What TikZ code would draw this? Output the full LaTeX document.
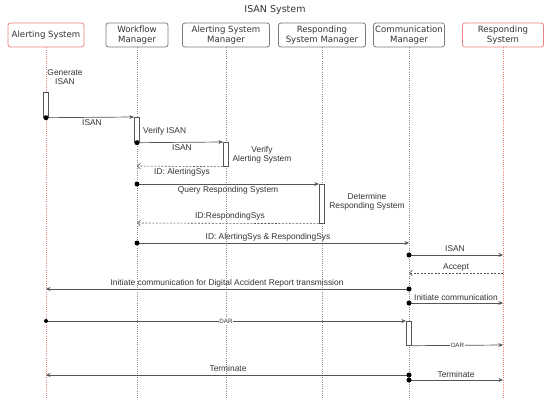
\documentclass[tikz,border=0pt]{standalone}
\usepackage{fontspec}
\setmainfont{Liberation Sans}
\newfontfamily\hdrfont{DejaVu Sans}
\usetikzlibrary{arrows.meta}
\definecolor{boxgray}{HTML}{7A7A7A}
\definecolor{redl}{HTML}{EE8080}
\definecolor{linegray}{HTML}{555555}
\definecolor{lifegray}{HTML}{8A8A8A}
\definecolor{txt}{HTML}{333333}
\begin{document}
\begin{tikzpicture}[x=1pt,y=-1pt,
  hdr/.style={draw=boxgray, rounded corners=2.5pt, fill=white, line width=0.8pt, align=center,
    font=\hdrfont\fontsize{8.6}{10}\selectfont, text=txt, minimum height=24pt, inner sep=1pt},
  hdrred/.style={hdr, draw=redl},
  life/.style={draw=lifegray, dash pattern=on 0.8pt off 1.4pt, line width=0.6pt},
  lifered/.style={draw=redl, dash pattern=on 0.8pt off 1.4pt, line width=0.6pt},
  act/.style={draw=linegray, fill=white, line width=0.7pt, minimum width=5.5pt, inner sep=0pt},
  msg/.style={draw=linegray, line width=0.7pt, -{Stealth[length=4.5pt,width=4pt]}},
  ret/.style={draw=linegray, dash pattern=on 2pt off 1.5pt, line width=0.6pt, -{Straight Barb[length=3pt,width=5.5pt]}},
  lbl/.style={font=\fontsize{8.4}{9.6}\selectfont, text=txt, inner sep=1pt, align=center},
  tiny/.style={font=\fontsize{6.2}{7}\selectfont, text=txt, fill=white, inner sep=0.6pt},
  startdot/.style={circle, fill=black, inner sep=0pt, minimum size=5pt}
]
\fill[white] (0,0) rectangle (550,410);
\useasboundingbox (0,0) rectangle (550,410);

% title
\node[font=\hdrfont\fontsize{9.5}{11}\selectfont, text=txt] (title) at (275,10) {ISAN System};

% headers
\node[hdrred, minimum width=76pt] (A) at (46,35) {Alerting System};
\node[hdr, minimum width=62pt] (W) at (137,35) {Workflow\\Manager};
\node[hdr, minimum width=87pt] (S) at (226,35) {Alerting System\\Manager};
\node[hdr, minimum width=87pt] (R) at (322,35) {Responding\\System Manager};
\node[hdr, minimum width=71pt] (C) at (409,35) {Communication\\Manager};
\node[hdrred, minimum width=81pt] (RS) at (503,35) {Responding\\System};

% lifeline ends
\coordinate (Aend) at (46,398);
\coordinate (Wend) at (137,398);
\coordinate (Send) at (226,398);
\coordinate (Rend) at (322,398);
\coordinate (Cend) at (409,398);
\coordinate (RSend) at (503,398);
\draw[lifered] (A.south) -- (Aend);
\draw[life] (W.south) -- (Wend);
\draw[life] (S.south) -- (Send);
\draw[life] (R.south) -- (Rend);
\draw[life] (C.south) -- (Cend);
\draw[lifered] (RS.south) -- (RSend);

% activation bars
\node[act, minimum height=25pt, anchor=north] (a1) at (46,92) {};
\node[act, minimum height=25pt, anchor=north] (w1) at (137,117) {};
\node[act, minimum height=24pt, anchor=north] (s1) at (226,142) {};
\node[act, minimum height=39pt, anchor=north] (r1) at (322,184) {};
\node[act, minimum height=24pt, anchor=north] (c1) at (409,321) {};

% side texts
\node[lbl] (gen) at (65,77) {Generate\\ISAN};
\node[lbl, anchor=west] (ver) at (142,131) {Verify ISAN};
\node[lbl] (vas) at (262,155) {Verify\\Alerting System};
\node[lbl] (det) at (367,202) {Determine\\Responding System};

% message end points
\coordinate (W3) at (137,166);
\coordinate (W4) at (137,184);
\coordinate (W5) at (137,223);
\coordinate (W6) at (137,243);
\coordinate (C6) at (409,243);
\coordinate (C7) at (409,255);
\coordinate (RS7) at (503,255);
\coordinate (RS8) at (503,273);
\coordinate (C8) at (409,273);
\coordinate (C9) at (409,289);
\coordinate (A9) at (46,289);
\coordinate (C10) at (409,303);
\coordinate (RS10) at (503,303);
\coordinate (A11) at (46,321);
\coordinate (RS12) at (503,345);
\coordinate (C13) at (409,375);
\coordinate (A13) at (46,375);
\coordinate (C14) at (409,380);
\coordinate (RS14) at (503,380);

% messages
\draw[msg] (a1.south) -- (w1.north west);
\node[lbl] (l1) at (92,123) {ISAN};
\draw[msg] (w1.south) -- (s1.north west);
\node[lbl] (l2) at (182,148) {ISAN};
\draw[ret] (s1.south west) -- (W3);
\node[lbl] (l3) at (182,172) {ID: AlertingSys};
\draw[msg] (W4) -- (r1.north west);
\node[lbl] (l4) at (228,190) {Query Responding System};
\draw[ret] (r1.south west) -- (W5);
\node[lbl] (l5) at (230,216) {ID:RespondingSys};
\draw[msg] (W6) -- (C6);
\node[lbl] (l6) at (268,237) {ID: AlertingSys \& RespondingSys};
\draw[msg] (C7) -- (RS7);
\node[lbl] (l7) at (455,249) {ISAN};
\draw[ret] (RS8) -- (C8);
\node[lbl] (l8) at (456,267) {Accept};
\draw[msg] (C9) -- (A9);
\node[lbl] (l9) at (227,283) {Initiate communication for Digital Accident Report transmission};
\draw[msg] (C10) -- (RS10);
\node[lbl] (l10) at (456,297) {Initiate communication};
\draw[msg] (A11) -- node[tiny] (l11) {DAR} (c1.north west);
\draw[msg] (c1.south east) -- node[tiny] (l12) {DAR} (RS12);
\draw[msg] (C13) -- (A13);
\node[lbl] (l13) at (228,368) {Terminate};
\draw[msg] (C14) -- (RS14);
\node[lbl] (l14) at (456,374) {Terminate};

% start dots
\node[startdot] (d1) at (a1.south) {};
\node[startdot] (d2) at (w1.south) {};
\node[startdot] (d4) at (W4) {};
\node[startdot] (d6) at (W6) {};
\node[startdot] (d7) at (C7) {};
\node[startdot] (d9) at (C9) {};
\node[startdot] (d10) at (C10) {};
\node[startdot, minimum size=4pt] (d11) at (A11) {};
\node[startdot] (d13) at (C13) {};
\node[startdot] (d14) at (C14) {};
\end{tikzpicture}
\end{document}
